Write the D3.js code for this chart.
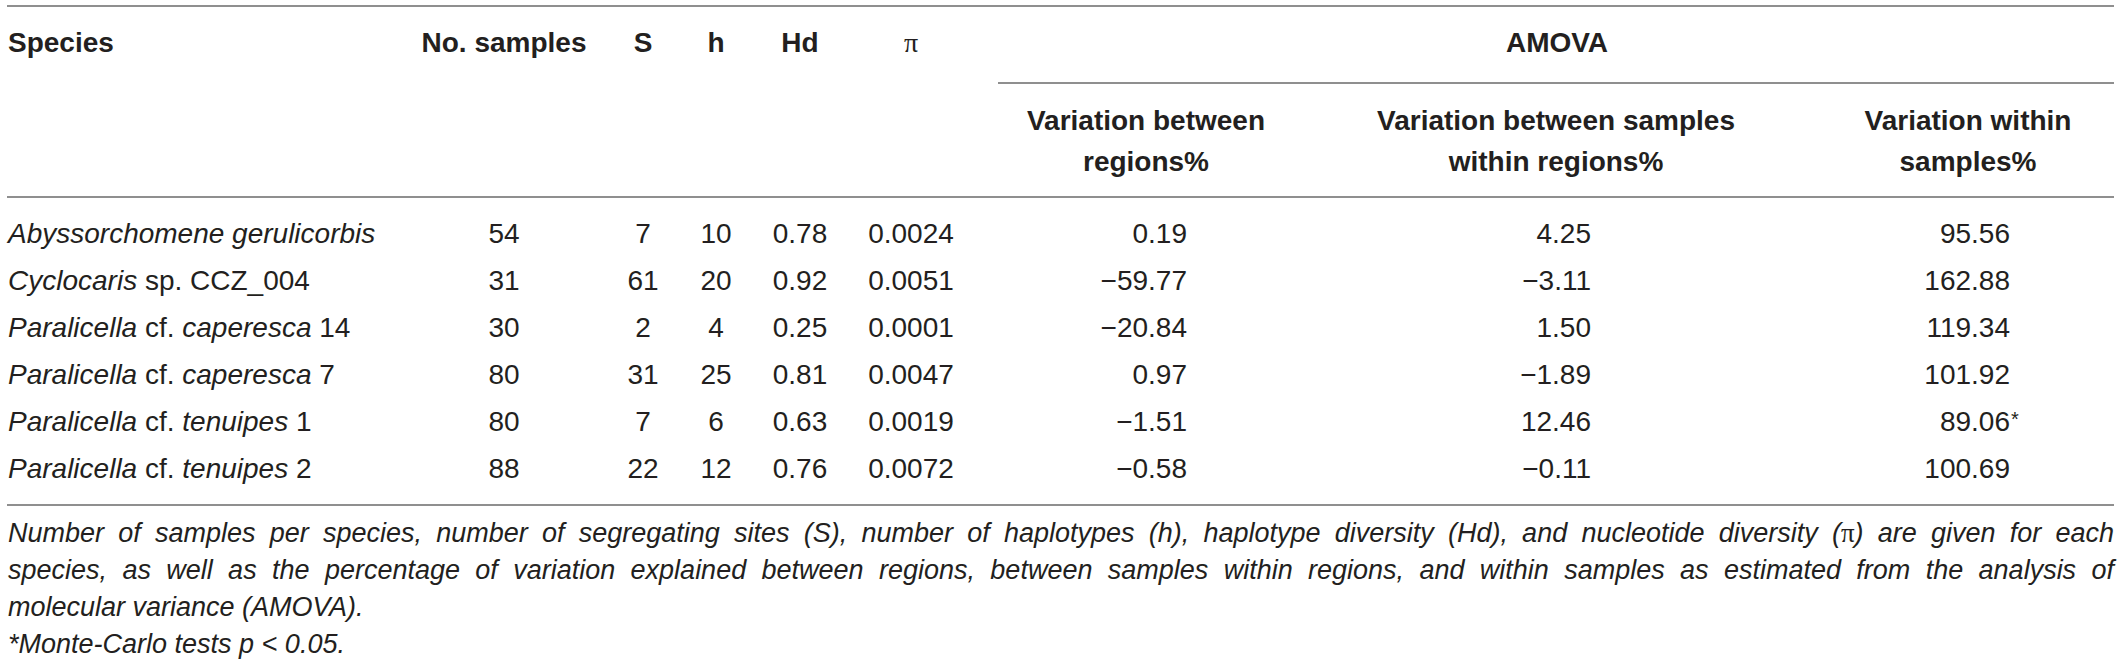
<!DOCTYPE html>
<html><head><meta charset="utf-8">
<script src="https://cdn.jsdelivr.net/npm/d3@7"></script>
<style>html,body{margin:0;padding:0;background:#fff;} svg{display:block;}</style>
</head><body><svg id="chart" width="2123" height="666"></svg>
<script>
// ---------- data ----------
const species = [
  "<i>Abyssorchomene gerulicorbis</i>",
  "<i>Cyclocaris</i> sp. CCZ_004",
  "<i>Paralicella</i> cf. <i>caperesca</i> 14",
  "<i>Paralicella</i> cf. <i>caperesca</i> 7",
  "<i>Paralicella</i> cf. <i>tenuipes</i> 1",
  "<i>Paralicella</i> cf. <i>tenuipes</i> 2"
];
const noSamples = ["54", "31", "30", "80", "80", "88"];
const segSites = ["7", "61", "2", "31", "7", "22"];
const haplotypes = ["10", "20", "4", "25", "6", "12"];
const hapDiversity = ["0.78", "0.92", "0.25", "0.81", "0.63", "0.76"];
const nucDiversity = ["0.0024", "0.0051", "0.0001", "0.0047", "0.0019", "0.0072"];
const varBetweenRegions = ["0.19", "\u221259.77", "\u221220.84", "0.97", "\u22121.51", "\u22120.58"];
const varBetweenSamples = ["4.25", "\u22123.11", "1.50", "\u22121.89", "12.46", "\u22120.11"];
const varWithinSamples = ["95.56", "162.88", "119.34", "101.92", "89.06", "100.69"];
const withinFlags = ["", "", "", "", "*", ""];
const headerTop = ["Species", "No. samples", "S", "h", "Hd", "\u03c0"];
const amovaTitle = "AMOVA";
const amovaHeaders = [
  ["Variation between", "regions%"],
  ["Variation between samples", "within regions%"],
  ["Variation within", "samples%"]
];
const captionLines = [
  "<i>Number of samples per species, number of segregating sites (S), number of haplotypes (h), haplotype diversity (Hd), and nucleotide diversity (</i>\u03c0<i>) are given for each</i>",
  "<i>species, as well as the percentage of variation explained between regions, between samples within regions, and within samples as estimated from the analysis of</i>",
  "<i>molecular variance (AMOVA).</i>",
  "<i>*Monte-Carlo tests p &lt; 0.05.</i>"
];
const captionJustify = [true, true, false, false];

// ---------- layout ----------
const W = 2123, H = 666;
const FONT = "'Liberation Sans', Arial, Helvetica, sans-serif";
const SERIF = "'Liberation Serif', 'DejaVu Serif', serif";
const INK = "#231f20";
const RULE = "#8f8f8f";
const left = 8, right = 2114;

const svg = d3.select("#chart");

const colKeys = ["species", "n", "S", "h", "Hd", "pi", "a1", "a2", "a3"];
const colData = [species, noSamples, segSites, haplotypes, hapDiversity, nucDiversity,
                 varBetweenRegions, varBetweenSamples, varWithinSamples];
const colX = d3.scaleOrdinal().domain(colKeys).range([left, 504, 643, 716, 800, 911, 1187, 1591, 2010]);
const colAnchor = d3.scaleOrdinal().domain(colKeys)
  .range(["start", "middle", "middle", "middle", "middle", "middle", "end", "end", "end"]);
const amovaX = d3.scaleOrdinal().domain([0, 1, 2]).range([1146, 1556, 1968]);

const rowY = d3.scalePoint().domain(d3.range(species.length)).range([243, 478]);
const capY = d3.scalePoint().domain(d3.range(captionLines.length)).range([542, 653]);

// rules
const rules = [
  {y: 6, x1: 7, x2: right},
  {y: 83, x1: 998, x2: right},
  {y: 197, x1: 7, x2: right},
  {y: 505, x1: 7, x2: right}
];
svg.selectAll("line.rule").data(rules).join("line")
  .attr("class", "rule")
  .attr("x1", d => d.x1).attr("x2", d => d.x2)
  .attr("y1", d => d.y).attr("y2", d => d.y)
  .attr("stroke", RULE).attr("stroke-width", 2);

// markup parser -> segments
function segments(str) {
  const parts = str.split(/(<i>.*?<\/i>)/).filter(s => s.length);
  const out = [];
  parts.forEach(p => {
    const it = p.startsWith("<i>");
    let t = it ? p.slice(3, -4) : p;
    t = t.replace(/&lt;/g, "<");
    // split out pi so it is drawn in serif
    t.split(/(\u03c0)/).filter(s => s.length).forEach(s => {
      out.push({text: s, italic: it && s !== "\u03c0", serif: s === "\u03c0"});
    });
  });
  return out;
}
function fillSegs(textSel, segs) {
  textSel.selectAll("tspan").data(segs).join("tspan")
    .attr("font-style", d => d.italic ? "italic" : "normal")
    .attr("font-family", d => d.serif ? SERIF : null)
    .text(d => d.text);
}

// header row 1
const headG = svg.append("g").attr("fill", INK).attr("font-family", FONT)
  .attr("font-size", 28).attr("font-weight", "bold");
headG.selectAll("text.h1").data(headerTop).join("text")
  .attr("class", "h1")
  .attr("x", (d, i) => colX(colKeys[i]))
  .attr("y", 52)
  .attr("text-anchor", (d, i) => i === 0 ? "start" : "middle")
  .attr("font-family", d => d === "\u03c0" ? SERIF : null)
  .attr("font-weight", d => d === "\u03c0" ? "normal" : null)
  .text(d => d);
headG.append("text").attr("x", 1557).attr("y", 52).attr("text-anchor", "middle").text(amovaTitle);

// AMOVA sub-headers
amovaHeaders.forEach((lines, i) => {
  headG.selectAll("text.am" + i).data(lines).join("text")
    .attr("class", "am" + i)
    .attr("x", amovaX(i))
    .attr("y", (d, j) => 130 + j * 41)
    .attr("text-anchor", "middle")
    .text(d => d);
});

// body cells
const bodyG = svg.append("g").attr("fill", INK).attr("font-family", FONT).attr("font-size", 28);
colKeys.forEach((k, ci) => {
  const sel = bodyG.selectAll("text.c" + k).data(colData[ci]).join("text")
    .attr("class", "c" + k)
    .attr("x", colX(k))
    .attr("y", (d, ri) => rowY(ri))
    .attr("text-anchor", colAnchor(k));
  sel.each(function(d) { fillSegs(d3.select(this), segments(d)); });
});
// significance flags (superscript)
bodyG.selectAll("text.flag").data(withinFlags).join("text")
  .attr("class", "flag")
  .attr("x", colX("a3") + 1)
  .attr("y", (d, ri) => rowY(ri) - 5)
  .attr("font-size", 20)
  .text(d => d);

// caption
const capG = svg.append("g").attr("fill", INK).attr("font-family", FONT).attr("font-size", 27);
captionLines.forEach((line, li) => {
  const y = capY(li);
  if (!captionJustify[li]) {
    const t = capG.append("text").attr("x", left).attr("y", y);
    fillSegs(t, segments(line));
    return;
  }
  // split into words while keeping segment styles
  const segs = segments(line);
  const words = [[]];
  segs.forEach(s => {
    const pieces = s.text.split(" ");
    pieces.forEach((p, pi) => {
      if (pi > 0) words.push([]);
      if (p.length) words[words.length - 1].push({text: p, italic: s.italic, serif: s.serif});
    });
  });
  const ws = words.filter(w => w.length);
  const nodes = ws.map(w => {
    const t = capG.append("text").attr("y", y);
    fillSegs(t, w);
    return t;
  });
  const widths = nodes.map(n => n.node().getComputedTextLength());
  const total = d3.sum(widths);
  const gap = (right - left - total) / (ws.length - 1);
  let x = left;
  nodes.forEach((n, i) => { n.attr("x", x); x += widths[i] + gap; });
});
</script>
</body></html>
